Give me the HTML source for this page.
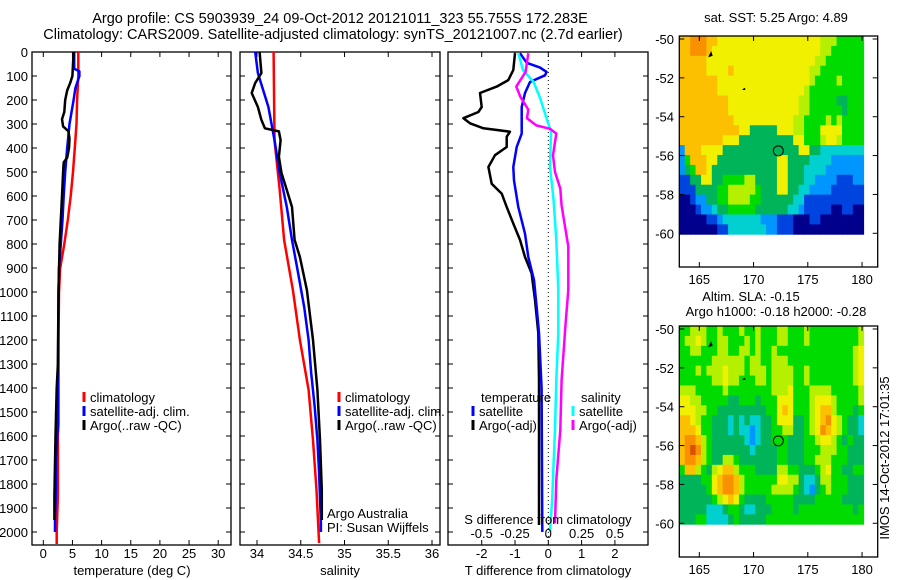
<!DOCTYPE html>
<html><head><meta charset="utf-8">
<style>
html,body{margin:0;padding:0;background:#fff;}
svg{display:block;font-family:"Liberation Sans",sans-serif;}
text{font-size:13px;fill:#000;}
.ttl{font-size:14.5px;}
</style></head>
<body>
<svg id="fig" width="900" height="580" viewBox="0 0 900 580" xmlns="http://www.w3.org/2000/svg">
<text class="ttl" x="340" y="23" text-anchor="middle">Argo profile: CS 5903939_24 09-Oct-2012 20121011_323 55.755S 172.283E</text>
<text class="ttl" x="333" y="39" text-anchor="middle">Climatology: CARS2009. Satellite-adjusted climatology: synTS_20121007.nc (2.7d earlier)</text>
<g id="layer"></g>
</svg>
<script>
// ---------- data ----------
const tempClimDepth = [0,100,200,300,400,500,600,700,800,900,1000,1200,1400,1550,1600,1850,2000,2050];
const tempClimVal   = [6.0,6.0,5.8,5.7,5.4,5.1,4.7,4.2,3.6,2.9,2.7,2.6,2.6,2.6,2.5,2.5,2.3,2.3];
const tempSatDepth  = [0,70,80,100,150,200,300,400,500,600,700,800,900,1000,1400,1550,1700,1800,1950,2000];
const tempSatVal    = [5.3,5.3,6.2,6.2,5.5,5.2,4.5,4.1,3.75,3.5,3.3,3.0,2.7,2.6,2.5,2.5,2.2,2.2,2.0,2.0];
const tempArgoDepth = [0,100,130,160,200,250,280,310,330,360,400,440,460,500,600,700,800,1000,1300,1400,1600,1850,1950];
const tempArgoVal   = [5.2,5.0,4.6,4.1,3.75,3.6,3.2,3.4,4.3,4.5,4.4,4.1,3.5,3.4,3.2,3.0,2.8,2.6,2.5,2.3,2.1,1.9,1.9];

const salClimDepth = [0,367,575,783,992,1200,1408,1617,1825,2046];
const salClimVal   = [34.19,34.20,34.26,34.31,34.41,34.49,34.59,34.64,34.68,34.71];
const salSatDepth  = [0,88,229,367,504,646,783,921,1063,1200,1338,1479,1617,1754,1963,2000];
const salSatVal    = [33.98,34.01,34.13,34.20,34.26,34.34,34.40,34.47,34.54,34.59,34.62,34.66,34.69,34.71,34.73,34.73];
const salArgoDepth = [0,88,129,171,229,283,318,331,367,437,504,575,646,783,854,992,1200,1408,1617,1825,1950];
const salArgoVal   = [34.03,34.05,33.98,33.94,34.01,34.05,34.09,34.25,34.27,34.25,34.28,34.34,34.40,34.43,34.49,34.57,34.64,34.69,34.72,34.74,34.74];

const dTArgoDepth = [5,75,117,144,171,229,250,276,297,318,332,353,396,430,479,549,590,646,715,783,854,922,1033,1171,1367,1971];
const dTArgoVal   = [-1.0,-1.05,-1.2,-1.55,-2.05,-2.0,-2.1,-2.55,-2.35,-1.95,-1.15,-1.25,-1.25,-1.6,-1.8,-1.7,-1.4,-1.25,-1.05,-0.85,-0.7,-0.5,-0.4,-0.3,-0.28,-0.28];
const dTSatDepth  = [5,45,65,83,97,125,171,229,340,396,479,535,646,757,854,950,1061,1171,1400,2000];
const dTSatVal    = [-0.85,-0.65,-0.25,-0.05,-0.1,-0.55,-0.7,-0.8,-0.8,-0.95,-1.05,-1.03,-0.9,-0.7,-0.6,-0.43,-0.35,-0.28,-0.2,-0.18];
const dSSatDepth  = [5,75,125,194,264,333,479,618,783,992,1171,1367,1575,1713,1854,2000];
const dSSatVal    = [-0.225,-0.19,-0.11,-0.06,-0.02,0.02,0.0125,0.04,0.06,0.075,0.075,0.06,0.05,0.04,0.03,0.0125];
const dSArgoDepth = [5,83,144,186,240,276,306,320,340,375,431,500,569,640,810,992,1131,1367,1575,1783,1964];
const dSArgoVal   = [-0.15,-0.17,-0.24,-0.21,-0.15,-0.16,-0.09,0.0125,0.06,0.05,0.035,0.05,0.09,0.1,0.15,0.15,0.13,0.1,0.09,0.06,0.05];

const depthTicks = [0,100,200,300,400,500,600,700,800,900,1000,1100,1200,1300,1400,1500,1600,1700,1800,1900,2000];
const tempTicks = [0,5,10,15,20,25,30];
const salTicks = [34,34.5,35,35.5,36];
const salTickLabels = ["34","34.5","35","35.5","36"];
const dTTicks = [-2,-1,0,1,2];
const dSTicks = [-0.5,-0.25,0,0.25,0.5];
const dSTickLabels = ["-0.5","-0.25","0","0.25","0.5"];
const latTicks = [-50,-52,-54,-56,-58,-60];
const lonTicks = [165,170,175,180];

// SST map (rows north->south, 0.5 deg cells), levels 0..a
const sstGrid = [
"8899988777777777777777777766655555",
"8899987777777777777777777766555555",
"8888877777777777777777777665555555",
"8888877778777777777777776655555555",
"8888888777777777777777776555565555",
"8888888777777777777777765555555555",
"8888888887777777777777665555544555",
"8888888887777777777777665555554555",
"8888888888777777777776655556565555",
"8888888888877444447776655577775555",
"8888888877744444444447755567765555",
"2888777744444444444444774433333333",
"2588877444444444447744443333222222",
"2458874444444444447744433332222222",
"1144774455556644447744433222211122",
"1114444556666654447744332222111111",
"0012244556666554444443311111111111",
"0001223445555544444433211111001100",
"0000011233333332221110001100000000",
"0000000113333333221110000000000000"];
const slaGrid = [
"5566655655565565556655565555555556",
"5667655665556565556655565555555556",
"5566555665566565565555555555555567",
"5555556666665665566655555555555567",
"5556566676665666566665565555555567",
"5555556676655566566665565555555567",
"6665555565555555566675556666555556",
"7766555554455545557775556777655556",
"7776655444444444557875556788655545",
"8876554443434334457774456789765443",
"8887554443433234455664456798765443",
"8998654444443234455544455677654544",
"89a9654444444344445544455566655444",
"8998654466544444445544455666555444",
"5886546788655544446655444567554455",
"4444557899865555557766433466555444",
"4444457899865555566665432456555444",
"4444445678754444555554444555554444",
"4444433345543344455554555555555545",
"4445533334544444555555555555555555"];
const floatLon = 172.283, floatLat = -55.755;

// ---------- helpers ----------
const NS = "http://www.w3.org/2000/svg";
const layer = document.getElementById('layer');
function mk(tag, attrs, parent){ const e=document.createElementNS(NS,tag); for(const k in attrs) e.setAttribute(k,attrs[k]); (parent||layer).appendChild(e); return e; }
function txt(x,y,s,anchor,parent){ const t=mk('text',{x:x,y:y,'text-anchor':anchor||'middle'},parent); t.textContent=s; return t; }

const top0=52, bot=545;
const yD = d => top0 + d*0.24;
const xT = v => 43.3 + v*5.83;
const xS = v => 257 + (v-34)*87.5;
const xDT = v => 548.3 + v*33.3;
const xDS = v => 548.3 + v*133.3;

function stepLine(depths, vals, xf, color, name, w){
  let d='';
  for(let i=0;i<depths.length;i++){
    const x=xf(vals[i]).toFixed(1), y=yD(depths[i]).toFixed(1);
    d += (i===0?'M':'L')+x+','+y;
  }
  const p=mk('path',{d:d,fill:'none',stroke:color,'stroke-width':w||2.5,'stroke-linejoin':'round'});
  
  
}
function panelBox(x0,x1,name){
  const r=mk('rect',{x:x0,y:top0,width:x1-x0,height:bot-top0,fill:'none',stroke:'#000','stroke-width':1.3});
  
  
}
function xTicks(vals,labels,xf,ly){
  vals.forEach((v,i)=>{
    const x=xf(v);
    mk('line',{x1:x,x2:x,y1:top0,y2:top0+5,stroke:'#000'});
    mk('line',{x1:x,x2:x,y1:bot,y2:bot-5,stroke:'#000'});
    if(labels){ const t=txt(x,ly,labels[i]);
      
       }
  });
}
function yTicks(x0,x1){
  depthTicks.forEach(d=>{
    const y=yD(d);
    mk('line',{x1:x0,x2:x0+5,y1:y,y2:y,stroke:'#000'});
    mk('line',{x1:x1,x2:x1-5,y1:y,y2:y,stroke:'#000'});
  });
}
function legendEntry(x,y,color,label){
  const g=mk('g',{});
  
  
  mk('line',{x1:x,x2:x,y1:y-10,y2:y,stroke:color,'stroke-width':3},g);
  txt(x+6,y,label,'start',g);
}

// ---------- panel 1: temperature ----------
panelBox(32,231,'temperature-panel');
yTicks(32,231);
depthTicks.forEach(d=>{ const t=txt(28,yD(d)+5,String(d),'end');
  
   });
xTicks(tempTicks,tempTicks.map(String),xT,558);
let t1=txt(132,575,'temperature (deg C)');


stepLine(tempClimDepth,tempClimVal,xT,'#ff0000','temp-climatology-line');
stepLine(tempSatDepth,tempSatVal,xT,'#0000ff','temp-satellite-line');
stepLine(tempArgoDepth,tempArgoVal,xT,'#000000','temp-argo-line');
legendEntry(84,402,'#ff0000','climatology');
legendEntry(84,416,'#0000ff','satellite-adj. clim.');
legendEntry(84,430,'#000000','Argo(..raw -QC)');

// ---------- panel 2: salinity ----------
panelBox(240,440,'salinity-panel');
yTicks(240,440);
xTicks(salTicks,salTickLabels,xS,558);
let t2=txt(340,575,'salinity');


stepLine(salClimDepth,salClimVal,xS,'#ff0000','sal-climatology-line');
stepLine(salSatDepth,salSatVal,xS,'#0000ff','sal-satellite-line');
stepLine(salArgoDepth,salArgoVal,xS,'#000000','sal-argo-line');
legendEntry(339,402,'#ff0000','climatology');
legendEntry(339,416,'#0000ff','satellite-adj. clim.');
legendEntry(339,430,'#000000','Argo(..raw -QC)');
txt(327,518,'Argo Australia','start');
txt(327,532,'PI: Susan Wijffels','start');

// ---------- panel 3: differences ----------
panelBox(448,648,'difference-panel');
yTicks(448,648);
xTicks(dTTicks,dTTicks.map(String),xDT,558);
mk('line',{x1:548.3,x2:548.3,y1:top0,y2:bot,stroke:'#000','stroke-dasharray':'1,3'});
stepLine(dTArgoDepth,dTArgoVal,xDT,'#000000','t-diff-argo-line');
stepLine(dTSatDepth,dTSatVal,xDT,'#0000ff','t-diff-satellite-line');
stepLine(dSSatDepth,dSSatVal,xDS,'#00ffff','s-diff-satellite-line');
stepLine(dSArgoDepth,dSArgoVal,xDS,'#ff00ff','s-diff-argo-line');
txt(481,402,'temperature','start');
legendEntry(473,416,'#0000ff','satellite');
legendEntry(473,430,'#000000','Argo(-adj)');
txt(581,402,'salinity','start');
legendEntry(573,416,'#00ffff','satellite');
legendEntry(573,430,'#ff00ff','Argo(-adj)');
txt(548,524,'S difference from climatology');
dSTicks.forEach((v,i)=>{ const t=txt(xDS(v),538,dSTickLabels[i]);
  
   });
let t3=txt(548,575,'T difference from climatology');



// ---------- maps ----------
const levelColors = {'0':'#00008c','1':'#0044e0','2':'#0096ff','3':'#00d0d0','4':'#00b45a','5':'#00dc00','6':'#b4f000','7':'#f0f000','8':'#fcc000','9':'#f89000','a':'#d85000'};
function drawMap(grid, oy, name){
  const g=mk('g',{});
  
  
  const bx0=679.3,bx1=877.7,by0=36+oy,by1=267+oy;
  const dx0=679.3,dx1=863.7,dy0=36+oy,dy1=234.3+oy;
  const lonX = lon => 699.3 + (lon-165)*10.85;
  const latY = lat => 39+oy + (-50-lat)*19.43;
  const rows=grid.length;
  const ch=(dy1-dy0)/rows;
  grid.forEach((row,r)=>{
    const cw=(dx1-dx0)/row.length;
    for(let c=0;c<row.length;c++){
      mk('rect',{x:(dx0+c*cw).toFixed(2),y:(dy0+r*ch).toFixed(2),width:(cw+0.4).toFixed(2),height:(ch+0.4).toFixed(2),fill:levelColors[row[c]]},g);
    }
  });
  mk('path',{d:`M${lonX(165.9)},${latY(-50.9)} l2,-4 l1,3 z`,fill:'#000',stroke:'#000'},g);
  mk('path',{d:`M${lonX(169.0)},${latY(-52.6)} l2,-1 l0,1 z`,fill:'#000',stroke:'#000'},g);
  const circ=mk('circle',{cx:lonX(floatLon),cy:latY(floatLat),r:5,fill:'none',stroke:'#000','stroke-width':1},g);
  
  
  mk('rect',{x:bx0,y:by0,width:bx1-bx0,height:by1-by0,fill:'none',stroke:'#000','stroke-width':1.3},g);
  latTicks.forEach(l=>{ const y=latY(l);
    mk('line',{x1:bx0,x2:bx0+5,y1:y,y2:y,stroke:'#000'},g);
    mk('line',{x1:bx1,x2:bx1-5,y1:y,y2:y,stroke:'#000'},g);
    txt(674,y+5,String(l),'end',g); });
  lonTicks.forEach(l=>{ const x=lonX(l);
    mk('line',{x1:x,x2:x,y1:by0,y2:by0+5,stroke:'#000'},g);
    mk('line',{x1:x,x2:x,y1:by1,y2:by1-5,stroke:'#000'},g);
    txt(x,by1+17,String(l),'middle',g); });
}
drawMap(sstGrid,0,'sst-map');
drawMap(slaGrid,290,'sla-map');
let m1=txt(776,22,'sat. SST: 5.25 Argo: 4.89');


let m2=txt(751,301,'Altim. SLA: -0.15');


let m3=txt(776,316,'Argo h1000: -0.18 h2000: -0.28');


let v=txt(0,0,'IMOS 14-Oct-2012 17:01:35','middle');
v.setAttribute('transform','translate(889,458) rotate(-90)');


</script>
</body></html>
